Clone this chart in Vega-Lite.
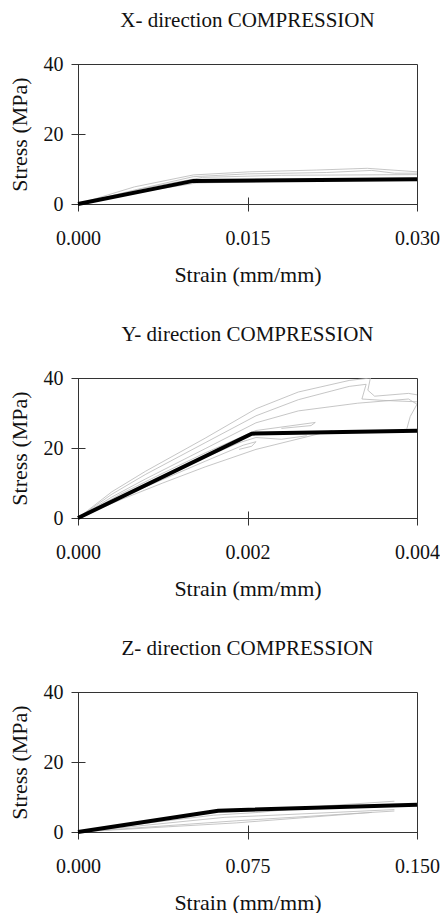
{
  "$schema": "https://vega.github.io/schema/vega-lite/v6.json",
  "background": "white",
  "padding": {"left": 7, "top": 9, "right": 0, "bottom": 2},
  "spacing": 37,
  "config": {
    "font": "Liberation Serif",
    "view": {"stroke": "#333", "strokeWidth": 1},
    "axis": {
      "domain": false, "grid": false, "ticks": true, "tickSize": 14, "offset": -7,
      "tickColor": "#333", "tickWidth": 1,
      "labelFont": "Liberation Serif", "labelFontSize": 20, "labelColor": "#111",
      "titleFont": "Liberation Serif", "titleFontSize": 22, "titleFontWeight": "normal", "titleColor": "#111",
      "labelFlush": false, "labelOverlap": false
    },
    "axisX": {"labelPadding": 17, "titlePadding": 16},
    "axisY": {"labelPadding": 8, "titlePadding": 12},
    "title": {"font": "Liberation Serif", "fontSize": 21, "fontWeight": "normal", "color": "#111", "anchor": "middle", "frame": "group", "offset": 23}
  },
  "datasets": {
    "curves": [
      {"p":"X","s":"a","i":0,"x":0,"y":0},{"p":"X","s":"a","i":1,"x":0.005,"y":4.9},{"p":"X","s":"a","i":2,"x":0.0102,"y":8.3},{"p":"X","s":"a","i":3,"x":0.0152,"y":9.2},{"p":"X","s":"a","i":4,"x":0.0211,"y":9.7},{"p":"X","s":"a","i":5,"x":0.0256,"y":10.2},{"p":"X","s":"a","i":6,"x":0.03,"y":9.2},
      {"p":"X","s":"b","i":0,"x":0,"y":0},{"p":"X","s":"b","i":1,"x":0.005,"y":4.0},{"p":"X","s":"b","i":2,"x":0.0102,"y":7.8},{"p":"X","s":"b","i":3,"x":0.015,"y":8.6},{"p":"X","s":"b","i":4,"x":0.022,"y":9.0},{"p":"X","s":"b","i":5,"x":0.026,"y":9.6},{"p":"X","s":"b","i":6,"x":0.028,"y":8.8},{"p":"X","s":"b","i":7,"x":0.03,"y":8.8},
      {"p":"X","s":"c","i":0,"x":0,"y":0},{"p":"X","s":"c","i":1,"x":0.005,"y":3.2},{"p":"X","s":"c","i":2,"x":0.0105,"y":6.0},{"p":"X","s":"c","i":3,"x":0.02,"y":6.6},{"p":"X","s":"c","i":4,"x":0.03,"y":6.9},
      {"p":"X","s":"d","i":0,"x":0,"y":0},{"p":"X","s":"d","i":1,"x":0.006,"y":4.6},{"p":"X","s":"d","i":2,"x":0.011,"y":7.6},{"p":"X","s":"d","i":3,"x":0.018,"y":8.2},{"p":"X","s":"d","i":4,"x":0.03,"y":8.4},
      {"p":"Y","s":"a","i":0,"x":0,"y":0},{"p":"Y","s":"a","i":1,"x":0.0004,"y":7.5},{"p":"Y","s":"a","i":2,"x":0.0008,"y":13.4},{"p":"Y","s":"a","i":3,"x":0.0015,"y":22.8},{"p":"Y","s":"a","i":4,"x":0.0021,"y":31.2},{"p":"Y","s":"a","i":5,"x":0.0026,"y":36.0},{"p":"Y","s":"a","i":6,"x":0.0032,"y":39.3},{"p":"Y","s":"a","i":7,"x":0.00345,"y":40},{"p":"Y","s":"a","i":8,"x":0.00342,"y":36.5},{"p":"Y","s":"a","i":9,"x":0.0035,"y":34.8},{"p":"Y","s":"a","i":10,"x":0.0039,"y":35.6},{"p":"Y","s":"a","i":11,"x":0.004,"y":35.2},
      {"p":"Y","s":"b","i":0,"x":0,"y":0},{"p":"Y","s":"b","i":1,"x":0.0004,"y":6.8},{"p":"Y","s":"b","i":2,"x":0.0008,"y":12.5},{"p":"Y","s":"b","i":3,"x":0.0015,"y":21.5},{"p":"Y","s":"b","i":4,"x":0.0021,"y":29.2},{"p":"Y","s":"b","i":5,"x":0.0026,"y":33.8},{"p":"Y","s":"b","i":6,"x":0.0032,"y":37.6},{"p":"Y","s":"b","i":7,"x":0.0034,"y":38.2},{"p":"Y","s":"b","i":8,"x":0.00335,"y":34.0},{"p":"Y","s":"b","i":9,"x":0.0036,"y":33.6},{"p":"Y","s":"b","i":10,"x":0.004,"y":33.2},
      {"p":"Y","s":"c","i":0,"x":0,"y":0},{"p":"Y","s":"c","i":1,"x":0.0004,"y":6.0},{"p":"Y","s":"c","i":2,"x":0.0008,"y":11.2},{"p":"Y","s":"c","i":3,"x":0.0015,"y":19.8},{"p":"Y","s":"c","i":4,"x":0.0021,"y":27.2},{"p":"Y","s":"c","i":5,"x":0.0026,"y":30.6},{"p":"Y","s":"c","i":6,"x":0.0033,"y":32.8},{"p":"Y","s":"c","i":7,"x":0.0039,"y":34.0},{"p":"Y","s":"c","i":8,"x":0.004,"y":32.5},{"p":"Y","s":"c","i":9,"x":0.00392,"y":29.0},{"p":"Y","s":"c","i":10,"x":0.00388,"y":25.5},
      {"p":"Y","s":"d","i":0,"x":0,"y":0},{"p":"Y","s":"d","i":1,"x":0.0005,"y":6.8},{"p":"Y","s":"d","i":2,"x":0.001,"y":12.8},{"p":"Y","s":"d","i":3,"x":0.0015,"y":18.6},{"p":"Y","s":"d","i":4,"x":0.0021,"y":25.0},{"p":"Y","s":"d","i":5,"x":0.0028,"y":27.3},{"p":"Y","s":"d","i":6,"x":0.00275,"y":26.4},{"p":"Y","s":"d","i":7,"x":0.0024,"y":25.6},
      {"p":"Y","s":"e","i":0,"x":0,"y":0},{"p":"Y","s":"e","i":1,"x":0.0005,"y":5.2},{"p":"Y","s":"e","i":2,"x":0.001,"y":10.0},{"p":"Y","s":"e","i":3,"x":0.0015,"y":14.6},{"p":"Y","s":"e","i":4,"x":0.0021,"y":19.6},{"p":"Y","s":"e","i":5,"x":0.0025,"y":22.0},{"p":"Y","s":"e","i":6,"x":0.003,"y":25.0},
      {"p":"Y","s":"f","i":0,"x":0,"y":0},{"p":"Y","s":"f","i":1,"x":0.0005,"y":5.8},{"p":"Y","s":"f","i":2,"x":0.001,"y":11.0},{"p":"Y","s":"f","i":3,"x":0.0015,"y":16.2},{"p":"Y","s":"f","i":4,"x":0.00195,"y":20.8},{"p":"Y","s":"f","i":5,"x":0.0021,"y":21.8},{"p":"Y","s":"f","i":6,"x":0.00205,"y":20.5},{"p":"Y","s":"f","i":7,"x":0.0019,"y":19.6},
      {"p":"Y","s":"g","i":0,"x":0,"y":0},{"p":"Y","s":"g","i":1,"x":0.0005,"y":6.0},{"p":"Y","s":"g","i":2,"x":0.001,"y":11.6},{"p":"Y","s":"g","i":3,"x":0.0015,"y":17.3},{"p":"Y","s":"g","i":4,"x":0.0019,"y":21.5},{"p":"Y","s":"g","i":5,"x":0.0021,"y":23.0},{"p":"Y","s":"g","i":6,"x":0.0024,"y":22.5},{"p":"Y","s":"g","i":7,"x":0.0027,"y":23.5},
      {"p":"Z","s":"a","i":0,"x":0,"y":0},{"p":"Z","s":"a","i":1,"x":0.03,"y":2.5},{"p":"Z","s":"a","i":2,"x":0.06,"y":4.8},{"p":"Z","s":"a","i":3,"x":0.08,"y":5.6},{"p":"Z","s":"a","i":4,"x":0.11,"y":7.5},{"p":"Z","s":"a","i":5,"x":0.14,"y":8.8},
      {"p":"Z","s":"b","i":0,"x":0,"y":0},{"p":"Z","s":"b","i":1,"x":0.065,"y":4.2},{"p":"Z","s":"b","i":2,"x":0.08,"y":4.6},{"p":"Z","s":"b","i":3,"x":0.14,"y":6.4},
      {"p":"Z","s":"c","i":0,"x":0,"y":0},{"p":"Z","s":"c","i":1,"x":0.07,"y":3.2},{"p":"Z","s":"c","i":2,"x":0.08,"y":3.6},{"p":"Z","s":"c","i":3,"x":0.14,"y":6.0},
      {"p":"Z","s":"d","i":0,"x":0,"y":0},{"p":"Z","s":"d","i":1,"x":0.04,"y":1.5},{"p":"Z","s":"d","i":2,"x":0.07,"y":2.6},{"p":"Z","s":"d","i":3,"x":0.13,"y":5.6}
    ],
    "model": [
      {"p":"X","i":0,"x":0,"y":0},{"p":"X","i":1,"x":0.0102,"y":6.6},{"p":"X","i":2,"x":0.03,"y":7.1},
      {"p":"Y","i":0,"x":0,"y":0},{"p":"Y","i":1,"x":0.00205,"y":24.1},{"p":"Y","i":2,"x":0.004,"y":24.9},
      {"p":"Z","i":0,"x":0,"y":0},{"p":"Z","i":1,"x":0.062,"y":6.1},{"p":"Z","i":2,"x":0.15,"y":7.8}
    ]
  },
  "vconcat": [
    {
      "title": "X- direction COMPRESSION",
      "width": 339, "height": 140,
      "layer": [
        {"data": {"name": "curves"}, "transform": [{"filter": "datum.p === 'X'"}],
         "mark": {"type": "line", "color": "#b8b8b8", "strokeWidth": 0.8, "clip": true},
         "encoding": {
           "x": {"field": "x", "type": "quantitative", "scale": {"domain": [0, 0.03], "nice": false}, "axis": {"values": [0, 0.015, 0.03], "format": ".3f", "title": "Strain (mm/mm)"}},
           "y": {"field": "y", "type": "quantitative", "scale": {"domain": [0, 40], "nice": false}, "axis": {"values": [0, 20, 40], "format": "d", "title": "Stress (MPa)"}},
           "detail": {"field": "s"}, "order": {"field": "i"}}},
        {"data": {"name": "model"}, "transform": [{"filter": "datum.p === 'X'"}],
         "mark": {"type": "line", "color": "#000", "strokeWidth": 4},
         "encoding": {"x": {"field": "x", "type": "quantitative"}, "y": {"field": "y", "type": "quantitative"}, "order": {"field": "i"}}}
      ]
    },
    {
      "title": "Y- direction COMPRESSION",
      "width": 339, "height": 140,
      "layer": [
        {"data": {"name": "curves"}, "transform": [{"filter": "datum.p === 'Y'"}],
         "mark": {"type": "line", "color": "#b8b8b8", "strokeWidth": 0.8, "clip": true},
         "encoding": {
           "x": {"field": "x", "type": "quantitative", "scale": {"domain": [0, 0.004], "nice": false}, "axis": {"values": [0, 0.002, 0.004], "format": ".3f", "title": "Strain (mm/mm)"}},
           "y": {"field": "y", "type": "quantitative", "scale": {"domain": [0, 40], "nice": false}, "axis": {"values": [0, 20, 40], "format": "d", "title": "Stress (MPa)"}},
           "detail": {"field": "s"}, "order": {"field": "i"}}},
        {"data": {"name": "model"}, "transform": [{"filter": "datum.p === 'Y'"}],
         "mark": {"type": "line", "color": "#000", "strokeWidth": 4},
         "encoding": {"x": {"field": "x", "type": "quantitative"}, "y": {"field": "y", "type": "quantitative"}, "order": {"field": "i"}}}
      ]
    },
    {
      "title": "Z- direction COMPRESSION",
      "width": 339, "height": 140,
      "layer": [
        {"data": {"name": "curves"}, "transform": [{"filter": "datum.p === 'Z'"}],
         "mark": {"type": "line", "color": "#b8b8b8", "strokeWidth": 0.8, "clip": true},
         "encoding": {
           "x": {"field": "x", "type": "quantitative", "scale": {"domain": [0, 0.15], "nice": false}, "axis": {"values": [0, 0.075, 0.15], "format": ".3f", "title": "Strain (mm/mm)"}},
           "y": {"field": "y", "type": "quantitative", "scale": {"domain": [0, 40], "nice": false}, "axis": {"values": [0, 20, 40], "format": "d", "title": "Stress (MPa)"}},
           "detail": {"field": "s"}, "order": {"field": "i"}}},
        {"data": {"name": "model"}, "transform": [{"filter": "datum.p === 'Z'"}],
         "mark": {"type": "line", "color": "#000", "strokeWidth": 4},
         "encoding": {"x": {"field": "x", "type": "quantitative"}, "y": {"field": "y", "type": "quantitative"}, "order": {"field": "i"}}}
      ]
    }
  ]
}
